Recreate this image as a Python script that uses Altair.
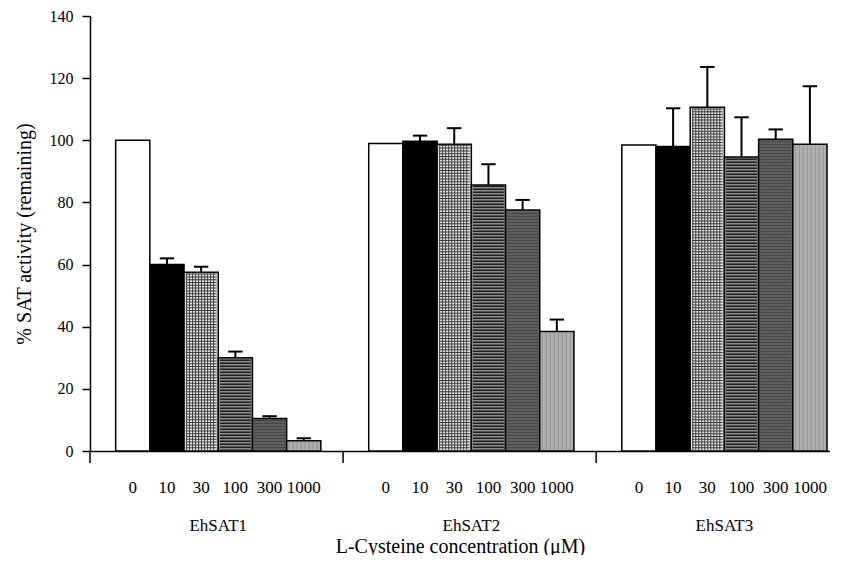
import altair as alt
import pandas as pd

groups = ["EhSAT1", "EhSAT2", "EhSAT3"]
concs = ["0", "10", "30", "100", "300", "1000"]
sat1 = [100, 60, 57.5, 30, 10.5, 3.3]
sat1_err = [0, 2.0, 1.8, 2.0, 0.7, 0.8]
sat2 = [99, 99.7, 98.7, 85.6, 77.6, 38.5]
sat2_err = [0, 1.8, 5.2, 6.7, 3.2, 3.8]
sat3 = [98.5, 98, 110.6, 94.6, 100.3, 98.7]
sat3_err = [0, 12.3, 13.0, 12.8, 3.2, 18.7]

fills = ["#ffffff", "#000000", "#e8e8e8", "#8c8c8c", "#5e5e5e", "#b0b0b0"]

values = [sat1, sat2, sat3]
errors = [sat1_err, sat2_err, sat3_err]
rows = []
for gi, g in enumerate(groups):
    for ci, c in enumerate(concs):
        rows.append({"gi": gi, "ci": ci, "group": g, "conc": c,
                     "value": values[gi][ci], "err": errors[gi][ci]})
df = pd.DataFrame(rows)
gdf = pd.DataFrame({"gi": list(range(len(groups))), "group": groups})

W, H = 740, 435
UNIT = 34.2          # px per bar
SPAN = 7.4           # group span in bar units
OFF = 0.75
YMAX = 140
FONT = "Liberation Serif"

xs = alt.Scale(domain=[0, W / UNIT], nice=False, zero=False)
ys = alt.Scale(domain=[0, YMAX], nice=False)

base = alt.Chart(df).transform_calculate(
    x0=f"datum.gi*{SPAN} + {OFF} + datum.ci",
    x1=f"datum.gi*{SPAN} + {OFF} + datum.ci + 1",
    xc=f"datum.gi*{SPAN} + {OFF} + datum.ci + 0.5",
    xl=f"datum.gi*{SPAN} + {OFF} + datum.ci + 0.29",
    xr=f"datum.gi*{SPAN} + {OFF} + datum.ci + 0.71",
    gx0=f"datum.gi*{SPAN} + {OFF} + datum.ci + 0.06",
    gx1=f"datum.gi*{SPAN} + {OFF} + datum.ci + 0.94",
    top="datum.value + datum.err",
    zero="0",
    half="datum.value / 2",
    hpx=f"datum.value * {H}/{YMAX} - 2",
)

xaxis = alt.Axis(title="L-Cysteine concentration (\u03bcM)", labels=False, ticks=False,
                 grid=False, domainColor="black", domainWidth=1.5,
                 titleFont=FONT, titleFontSize=20, titleFontWeight="normal",
                 titleColor="black", titleY=95, titleBaseline="middle")
yaxis = alt.Axis(title="% SAT activity (remaining)", values=list(range(0, 141, 20)),
                 grid=False, domainColor="black", domainWidth=1.5,
                 tickColor="black", tickWidth=1.5, tickSize=8, labelPadding=9,
                 labelFont=FONT, labelFontSize=16, labelColor="black",
                 titleFont=FONT, titleFontSize=20, titleFontWeight="normal",
                 titleColor="black", titlePadding=15)

bars = base.mark_bar(stroke="black", strokeWidth=1.5).encode(
    x=alt.X("x0:Q", scale=xs, axis=xaxis),
    x2="x1:Q",
    y=alt.Y("value:Q", scale=ys, axis=yaxis),
    y2="zero:Q",
    fill=alt.Fill("conc:N", scale=alt.Scale(domain=concs, range=fills), legend=None),
)

# textures drawn inside the bars
hlines30 = base.transform_filter("datum.conc == '30'").mark_rule(
    color="#3c3c3c", strokeDash=[1, 1.8], strokeWidth=UNIT - 3.5
).encode(x="xc:Q", y="zero:Q", y2="value:Q")
vlines30 = base.transform_filter("datum.conc == '30'").mark_rule(
    color="#3c3c3c", strokeDash=[1, 2]
).encode(x="gx0:Q", x2="gx1:Q", y="half:Q",
         strokeWidth=alt.StrokeWidth("hpx:Q", scale=None))
stripes100 = base.transform_filter("datum.conc == '100'").mark_rule(
    color="#1e1e1e", strokeDash=[1.5, 1.5], strokeWidth=UNIT - 3.5
).encode(x="xc:Q", y="zero:Q", y2="value:Q")
tex300 = base.transform_filter("datum.conc == '300'").mark_rule(
    color="#2e2e2e", strokeDash=[1, 2], strokeWidth=UNIT - 3.5, opacity=0.5
).encode(x="xc:Q", y="zero:Q", y2="value:Q")
tex1000 = base.transform_filter("datum.conc == '1000'").mark_rule(
    color="#7a7a7a", strokeDash=[1, 3], opacity=0.5
).encode(x="gx0:Q", x2="gx1:Q", y="half:Q",
         strokeWidth=alt.StrokeWidth("hpx:Q", scale=None))

errs = base.transform_filter("datum.err > 0")
err_line = errs.mark_rule(color="black", strokeWidth=2).encode(
    x="xc:Q", y="value:Q", y2="top:Q")
err_cap = errs.mark_rule(color="black", strokeWidth=2).encode(
    x="xl:Q", x2="xr:Q", y="top:Q")

conc_text = base.mark_text(font=FONT, fontSize=17, baseline="middle", color="black").encode(
    x="xc:Q", y=alt.value(H + 37), text="conc:N")

gbase = alt.Chart(gdf).transform_calculate(
    gc=f"datum.gi*{SPAN} + {OFF} + 3",
    gb=f"datum.gi*{SPAN}",
)
group_text = gbase.mark_text(font=FONT, fontSize=17, baseline="middle", color="black").encode(
    x="gc:Q", y=alt.value(H + 75), text="group:N")
sep_ticks = gbase.mark_rule(color="black", strokeWidth=1.5).encode(
    x="gb:Q", y=alt.value(H), y2=alt.value(H + 12))

chart = alt.layer(
    bars, hlines30, vlines30, stripes100, tex300, tex1000,
    err_line, err_cap, conc_text, group_text, sep_ticks
).properties(
    width=W, height=H,
    padding={"left": 82, "top": 8, "right": 0, "bottom": 104},
    autosize="none",
    background="white",
).configure_view(stroke=None)

chart.save("out.html", embed_options={"renderer": "svg", "actions": False})
